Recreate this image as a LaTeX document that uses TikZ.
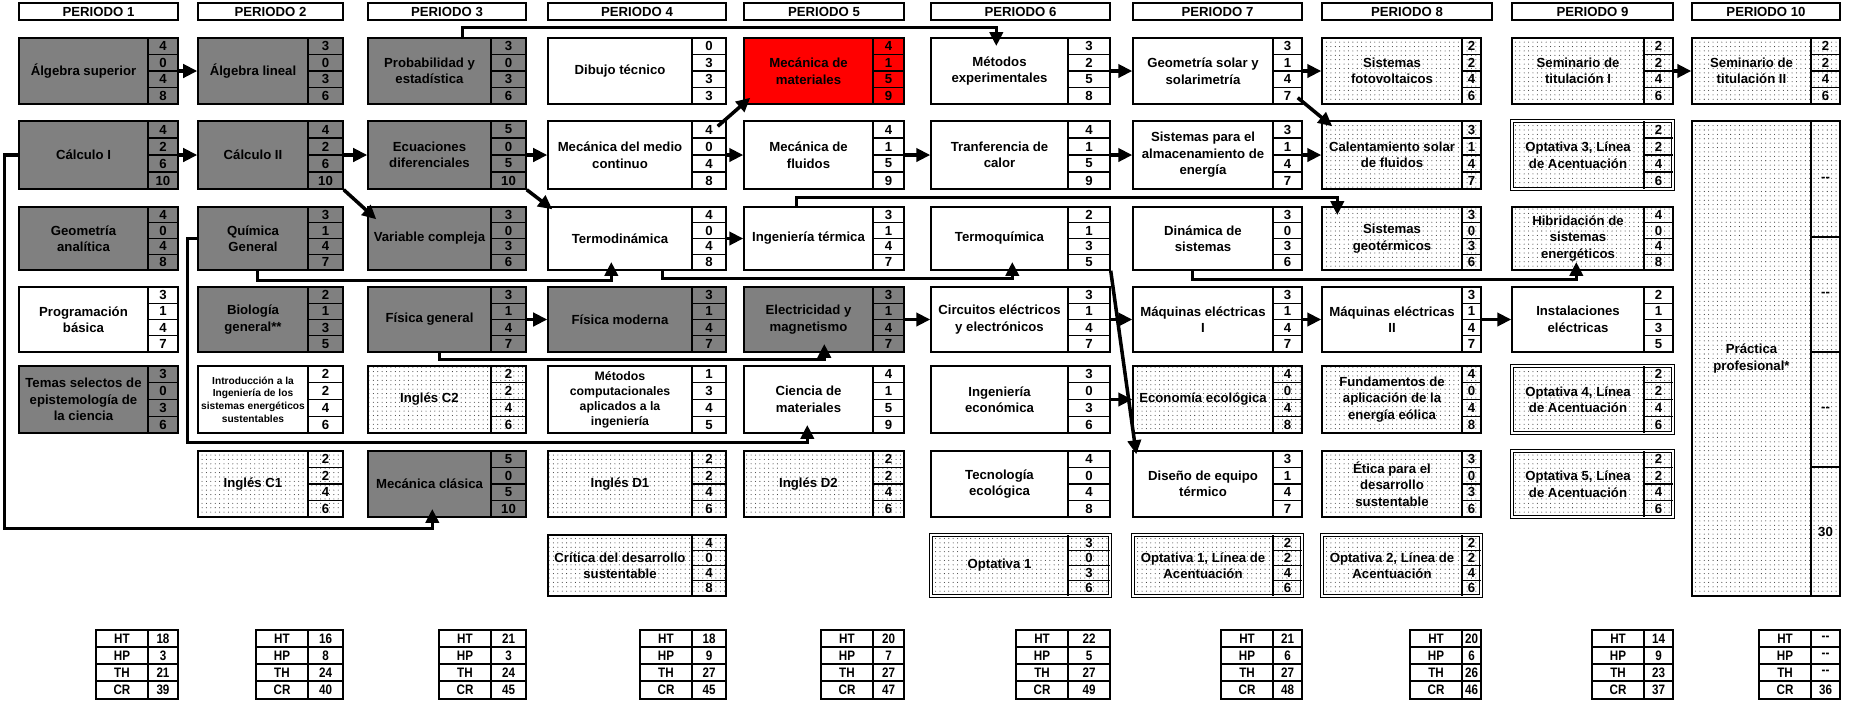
\documentclass[tikz,border=0pt]{standalone}
\usepackage{fontspec}
\setmainfont{Liberation Sans}
\newfontfamily\angosta[FakeStretch=0.85]{Liberation Sans}
\usepackage{tikz}
\usetikzlibrary{arrows.meta,fit,calc,patterns.meta}

% columnas y filas de la reticula (px)
\def\colizq{{19,198,368,548,744,931,1133,1322,1512,1692}}
\def\coldiv{{148,308,491,692,873,1068,1273,1462,1644,1811}}
\def\colder{{178,343,526,726,904,1110,1302,1481,1673,1840}}
\def\filsup{{38,121,207,287,366,451,535}}
\def\filinf{{104,189,270,352,433,517,596}}

% [estilo texto]{nombre}{periodo}{fila}{estilo caja}{texto}{HT,HP,TH,CR}
\newcommand{\materia}[7][]{%
  \pgfmathsetmacro\mxa{\colizq[#3-1]}%
  \pgfmathsetmacro\mxb{\coldiv[#3-1]}%
  \pgfmathsetmacro\mxc{\colder[#3-1]}%
  \pgfmathsetmacro\mya{\filsup[#4-1]}%
  \pgfmathsetmacro\myb{\filinf[#4-1]}%
  \node[caja,#5,fit={(\mxa,\mya)(\mxc,\myb)}] (#2) {};
  \node[texto,#1] (#2-t) at ({(\mxa+\mxb)/2},{(\mya+\myb)/2}) {#6};
  \draw[fino] (\mxb,\mya) -- (\mxb,\myb);
  \foreach \n [count=\i] in {#7} {
    \node[num] (#2-\i) at ({(\mxb+\mxc)/2},{\mya+(\i-0.5)*(\myb-\mya)/4}) {\n};
    \ifnum\i<4 \draw[fino] (\mxb,{\mya+\i*(\myb-\mya)/4}) -- (\mxc,{\mya+\i*(\myb-\mya)/4}); \fi
  }
}

\begin{document}
\begin{tikzpicture}[x=0.02cm,y=-0.02cm,
    font=\bfseries\fontsize{7.5}{9.4}\selectfont,
    fino/.style={line width=0.8pt},
    caja/.style={draw,line width=0.8pt,inner sep=0pt},
    gris/.style={fill=black!50},
    roja/.style={fill=red},
    blanca/.style={fill=white},
    punteada/.style={preaction={fill=white},pattern={Dots[distance=2.5pt,radius=0.3pt]},pattern color=black!80},
    doble/.style={double,double distance=0.8pt,line width=0.6pt},
    encab/.style={draw,line width=0.8pt,inner sep=0pt,fill=white},
    texto/.style={align=center,inner sep=1pt},
    num/.style={inner sep=0pt},
    chica/.style={font=\bfseries\fontsize{5.8}{7.2}\selectfont},
    media/.style={font=\bfseries\fontsize{7}{8.6}\selectfont},
    tabla/.style={font=\angosta\bfseries\fontsize{7.8}{9}\selectfont,inner sep=0pt},
    flecha/.style={line width=2pt,-{Triangle[length=8pt,width=7.5pt]}},
    dentro/.style={shorten >=-5pt}]
  \useasboundingbox (0,0) rectangle (1849,701);

  % encabezados
  \foreach \k/\a/\b in {1/19/178,2/198/343,3/368/526,4/548/726,5/744/904,
      6/931/1110,7/1133/1302,8/1322/1492,9/1512/1673,10/1692/1840}
    \node[encab,fit={(\a,3)(\b,20)},label=center:{PERIODO \k}] (p\k) {};

  % periodo 1
  \materia{asup}{1}{1}{gris}{Álgebra superior}{4,0,4,8}
  \materia{calc1}{1}{2}{gris}{Cálculo I}{4,2,6,10}
  \materia{gana}{1}{3}{gris}{Geometría\\analítica}{4,0,4,8}
  \materia{prog}{1}{4}{blanca}{Programación\\básica}{3,1,4,7}
  \materia{temas}{1}{5}{gris}{Temas selectos de\\epistemología de\\la ciencia}{3,0,3,6}
  % periodo 2
  \materia{alin}{2}{1}{gris}{Álgebra lineal}{3,0,3,6}
  \materia{calc2}{2}{2}{gris}{Cálculo II}{4,2,6,10}
  \materia{qgen}{2}{3}{gris}{Química\\General}{3,1,4,7}
  \materia{biol}{2}{4}{gris}{Biología\\general**}{2,1,3,5}
  \materia[chica]{intro}{2}{5}{blanca}{Introducción a la\\Ingeniería de  los\\sistemas energéticos\\sustentables}{2,2,4,6}
  \materia{ingc1}{2}{6}{punteada}{Inglés C1}{2,2,4,6}
  % periodo 3
  \materia{prob}{3}{1}{gris}{Probabilidad y\\estadística}{3,0,3,6}
  \materia{ecua}{3}{2}{gris}{Ecuaciones\\diferenciales}{5,0,5,10}
  \materia{varc}{3}{3}{gris}{Variable compleja}{3,0,3,6}
  \materia{fgen}{3}{4}{gris}{Física general}{3,1,4,7}
  \materia{ingc2}{3}{5}{punteada}{Inglés C2}{2,2,4,6}
  \materia{mcla}{3}{6}{gris}{Mecánica clásica}{5,0,5,10}
  % periodo 4
  \materia{dibu}{4}{1}{blanca}{Dibujo técnico}{0,3,3,3}
  \materia{medio}{4}{2}{blanca}{Mecánica del medio\\continuo}{4,0,4,8}
  \materia{termo}{4}{3}{blanca}{Termodinámica}{4,0,4,8}
  \materia{fmod}{4}{4}{gris}{Física moderna}{3,1,4,7}
  \materia[media]{mcomp}{4}{5}{blanca}{Métodos\\computacionales\\aplicados a la\\ingeniería}{1,3,4,5}
  \materia{ingd1}{4}{6}{punteada}{Inglés D1}{2,2,4,6}
  \materia{crit}{4}{7}{punteada}{Crítica del desarrollo\\sustentable}{4,0,4,8}
  % periodo 5
  \materia{mmat}{5}{1}{roja}{Mecánica de\\materiales}{4,1,5,9}
  \materia{mflu}{5}{2}{blanca}{Mecánica de\\fluidos}{4,1,5,9}
  \materia{iter}{5}{3}{blanca}{Ingeniería térmica}{3,1,4,7}
  \materia{elec}{5}{4}{gris}{Electricidad y\\magnetismo}{3,1,4,7}
  \materia{cmat}{5}{5}{blanca}{Ciencia de\\materiales}{4,1,5,9}
  \materia{ingd2}{5}{6}{punteada}{Inglés D2}{2,2,4,6}
  % periodo 6
  \materia{mexp}{6}{1}{blanca}{Métodos\\experimentales}{3,2,5,8}
  \materia{tcal}{6}{2}{blanca}{Tranferencia de\\calor}{4,1,5,9}
  \materia{tquim}{6}{3}{blanca}{Termoquímica}{2,1,3,5}
  \materia{circ}{6}{4}{blanca}{Circuitos eléctricos\\y electrónicos}{3,1,4,7}
  \materia{ieco}{6}{5}{blanca}{Ingeniería\\económica}{3,0,3,6}
  \materia{teco}{6}{6}{blanca}{Tecnología\\ecológica}{4,0,4,8}
  \materia{opt1}{6}{7}{punteada,doble}{Optativa 1}{3,0,3,6}
  % periodo 7
  \materia{gsol}{7}{1}{blanca}{Geometría solar y\\solarimetría}{3,1,4,7}
  \materia{salm}{7}{2}{blanca}{Sistemas para el\\almacenamiento de\\energía}{3,1,4,7}
  \materia{dins}{7}{3}{blanca}{Dinámica de\\sistemas}{3,0,3,6}
  \materia{mel1}{7}{4}{blanca}{Máquinas eléctricas\\I}{3,1,4,7}
  \materia{eeco}{7}{5}{punteada}{Economía ecológica}{4,0,4,8}
  \materia{dequ}{7}{6}{blanca}{Diseño de equipo\\térmico}{3,1,4,7}
  \materia{optl1}{7}{7}{punteada,doble}{Optativa 1, Línea de\\Acentuación}{2,2,4,6}
  % periodo 8
  \materia{sfot}{8}{1}{punteada}{Sistemas\\fotovoltaicos}{2,2,4,6}
  \materia{csol}{8}{2}{punteada}{Calentamiento solar\\de fluidos}{3,1,4,7}
  \materia{sgeo}{8}{3}{punteada}{Sistemas\\geotérmicos}{3,0,3,6}
  \materia{mel2}{8}{4}{blanca}{Máquinas eléctricas\\II}{3,1,4,7}
  \materia{feol}{8}{5}{punteada}{Fundamentos de\\aplicación de la\\energía eólica}{4,0,4,8}
  \materia{etic}{8}{6}{punteada}{Ética para el\\desarrollo\\sustentable}{3,0,3,6}
  \materia{optl2}{8}{7}{punteada,doble}{Optativa 2, Línea de\\Acentuación}{2,2,4,6}
  % periodo 9
  \materia{stit1}{9}{1}{punteada}{Seminario de\\titulación I}{2,2,4,6}
  \materia{optl3}{9}{2}{punteada,doble}{Optativa 3, Línea\\de Acentuación}{2,2,4,6}
  \materia{hibr}{9}{3}{punteada}{Hibridación de\\sistemas\\energéticos}{4,0,4,8}
  \materia{inst}{9}{4}{blanca}{Instalaciones\\eléctricas}{2,1,3,5}
  \materia{optl4}{9}{5}{punteada,doble}{Optativa 4, Línea\\de Acentuación}{2,2,4,6}
  \materia{optl5}{9}{6}{punteada,doble}{Optativa 5, Línea\\de Acentuación}{2,2,4,6}
  % periodo 10
  \materia{stit2}{10}{1}{punteada}{Seminario de\\titulación II}{2,2,4,6}
  \node[caja,punteada,fit={(1692,121)(1840,596)}] (prac) {};
  \node[texto] (prac-t) at (1751.5,358.5) {Práctica\\profesional*};
  \draw[fino] (1811,121) -- (1811,596);
  \foreach \y in {237,352,467} \draw[fino] (1811,\y) -- (1840,\y);
  \foreach \n/\y [count=\k] in {-{}-/179,-{}-/294.5,-{}-/409.5,30/531.5}
    \node[num] (prac-\k) at (1825.5,\y) {\n};

  % seriaciones
  \draw[flecha] (asup) -- (alin);
  \draw[flecha] (calc1) -- (calc2);
  \draw[flecha] (calc2) -- (ecua);
  \draw[flecha] (calc2.south east) -- ($(varc.north west)+(9,13)$);
  \draw[flecha] (ecua) -- (medio);
  \draw[flecha] (ecua.south east) -- ($(termo.north west)+(5,3)$);
  \draw[flecha] ($(medio.north east)+(-9,6)$) -- ($(mmat.south west)+(7,-7)$);
  \draw[flecha] (medio) -- (mflu);
  \draw[flecha] (mflu) -- (tcal);
  \draw[flecha] (tcal) -- (salm);
  \draw[flecha] (salm) -- (csol);
  \draw[flecha] (mexp) -- (gsol);
  \draw[flecha] (gsol) -- (sfot);
  \draw[flecha] ($(gsol.south east)+(-5,-7)$) -- ($(csol.north west)+(11,6)$);
  \draw[flecha] (stit1) -- (stit2);
  \draw[flecha] (termo) -- (iter);
  \draw[flecha] (fgen) -- (fmod);
  \draw[flecha] (elec) -- (circ);
  \draw[flecha] (circ) -- (mel1);
  \draw[flecha] (mel1) -- (mel2);
  \draw[flecha] (mel2) -- (inst);
  \draw[flecha] (ieco) -- (eeco);
  \draw[flecha] (tquim.south east) -- ($(dequ.north west)+(4,4)$);
  \draw[flecha,dentro] ($(prob.north west)+(95,0)$) -- ++(0,-10) -| ($(mexp.north west)+(66,0)$);
  \draw[flecha,dentro] ($(iter.north west)+(53,0)$) -- ++(0,-9) -| ($(sgeo.north west)+(16,0)$);
  \draw[flecha,dentro] ($(qgen.south west)+(60,0)$) -- ++(0,10) -| ($(termo.south west)+(64,0)$);
  \draw[flecha,dentro] ($(termo.south west)+(115,0)$) -- ++(0,8) -| ($(tquim.south west)+(82,0)$);
  \draw[flecha,dentro] ($(fgen.south west)+(72,0)$) -- ++(0,7) -| ($(elec.south west)+(81,0)$);
  \draw[flecha,dentro] (qgen.west) -- ++(-10,0) |- ($(cmat.south west)+(64,9)$) -- ($(cmat.south west)+(64,0)$);
  \draw[flecha,dentro] (calc1.west) -- ++(-14,0) |- ($(mcla.south west)+(65,11)$) -- ($(mcla.south west)+(65,0)$);
  \draw[flecha,dentro] ($(dins.south west)+(60,0)$) -- ++(0,9) -| ($(hibr.south west)+(65,0)$);

  % totales por periodo
  \foreach \k/\vht/\vhp/\vth/\vcr in {1/18/3/21/39, 2/16/8/24/40, 3/21/3/24/45,
      4/18/9/27/45, 5/20/7/27/47, 6/22/5/27/49, 7/21/6/27/48, 8/20/6/26/46,
      9/14/9/23/37, 10/-{}-/-{}-/-{}-/36} {
    \pgfmathsetmacro\mxb{\coldiv[\k-1]}
    \pgfmathsetmacro\mxc{\colder[\k-1]}
    \pgfmathsetmacro\mxa{\mxb-52}
    \draw[fino] (\mxa,630) rectangle (\mxc,699);
    \draw[fino] (\mxb,630) -- (\mxb,699);
    \foreach \y in {647,664,681} \draw[fino] (\mxa,\y) -- (\mxc,\y);
    \node[tabla] (ht\k) at ({(\mxa+\mxb)/2},638.5) {HT};
    \node[tabla] (hp\k) at ({(\mxa+\mxb)/2},655.5) {HP};
    \node[tabla] (th\k) at ({(\mxa+\mxb)/2},672.5) {TH};
    \node[tabla] (cr\k) at ({(\mxa+\mxb)/2},690) {CR};
    \node[tabla] (vht\k) at ({(\mxb+\mxc)/2},638.5) {\vht};
    \node[tabla] (vhp\k) at ({(\mxb+\mxc)/2},655.5) {\vhp};
    \node[tabla] (vth\k) at ({(\mxb+\mxc)/2},672.5) {\vth};
    \node[tabla] (vcr\k) at ({(\mxb+\mxc)/2},690) {\vcr};
  }
\end{tikzpicture}
\end{document}
